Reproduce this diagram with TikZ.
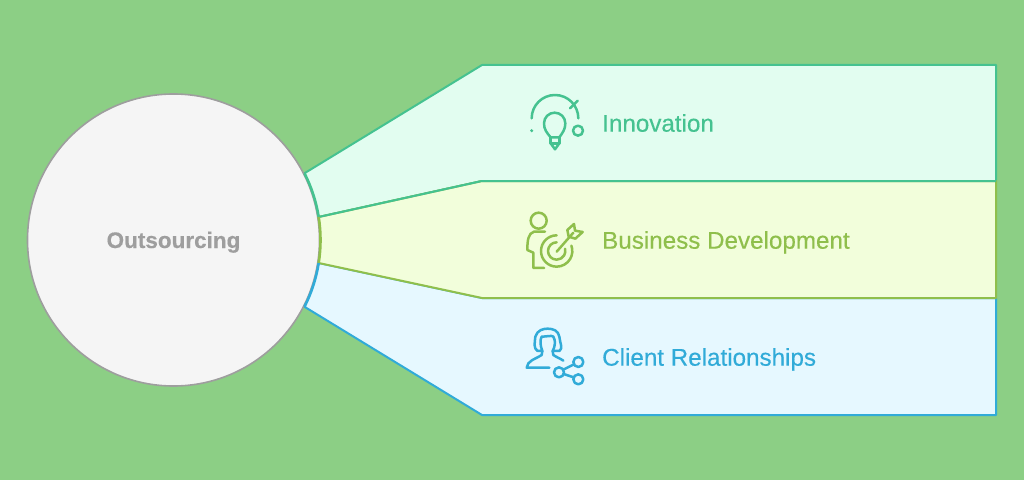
\documentclass[tikz,border=0pt]{standalone}
\usepackage{fontspec}
\setmainfont[FakeBold=0.35]{Liberation Sans}
\usetikzlibrary{calc}
\definecolor{bgc}{HTML}{8CCF85}
\definecolor{topf}{HTML}{E2FDF0}\definecolor{tops}{HTML}{45C290}
\definecolor{midf}{HTML}{F2FEDB}\definecolor{mids}{HTML}{8FBF4C}
\definecolor{botf}{HTML}{E6F8FF}\definecolor{bots}{HTML}{31ABD8}
\definecolor{circf}{HTML}{F5F5F5}\definecolor{circs}{HTML}{9E9E9E}
\tikzset{
 band/.style={line width=2pt,line join=round},
 label/.style={anchor=base west,inner sep=0pt,font=\fontsize{24.2}{28}\selectfont},
 icon/.style={line width=2.5pt,line cap=round,line join=round,fill=none},
}
\begin{document}
\begin{tikzpicture}[x=1pt,y=1pt]
\useasboundingbox (0,0) rectangle (1024,480);
\fill[bgc] (0,0) rectangle (1024,480);
\coordinate (c) at (173.5,240);
\coordinate (a1) at ($(c)+(27:147)$);
\coordinate (a2) at ($(c)+(9:147)$);
\coordinate (a3) at ($(c)+(-9:147)$);
\coordinate (a4) at ($(c)+(-27:147)$);
% bands
\draw[band,draw=tops,fill=topf] (a1) -- (482,415) -- (996,415) -- (996,299) -- (482,299) -- (a2) -- cycle;
\draw[band,draw=bots,fill=botf] (a4) -- (482,65) -- (996,65) -- (996,182) -- (482,182) -- (a3) -- cycle;
\draw[band,draw=mids,fill=midf] (a3) -- (482,182) -- (996,182) -- (996,299) -- (482,299) -- (a2);
\draw[band,draw=tops] (a2) -- (482,299) -- (996,299);
% circle
\node[circle,draw=circs,fill=circf,line width=1.6pt,minimum size=292pt,inner sep=0pt] (hub) at (c) {};
\draw[line width=2.6pt,draw=tops] (a1) arc[start angle=27,end angle=9,radius=147pt];
\draw[line width=2.6pt,draw=mids] (a2) arc[start angle=9,end angle=-9,radius=147pt];
\draw[line width=2.6pt,draw=bots] (a3) arc[start angle=-9,end angle=-27,radius=147pt];
\node[font=\fontsize{22.5}{26}\selectfont\bfseries,text=circs,inner sep=0pt,anchor=base] (hubt) at (173.5,232) {Outsourcing};
% labels
\node[label,text=tops] (l1) at (602,348.3) {Innovation};
\node[label,text=mids] (l2) at (602,231.3) {Business Development};
\node[label,text=bots] (l3) at (602,114.3) {Client Relationships};
% icon 1
\begin{scope}[shift={(510,400)},x=.3333pt,y=-.3333pt,icon,draw=tops]
\draw (65,115) arc[start angle=180,end angle=360,radius=70];
\draw (180,85) -- (203,62);
\fill[tops] (65,152) circle (5);
\draw (204,152) circle (15);
\draw (122,172) .. controls (110,158) and (102,148) .. (102,130) arc[start angle=180,end angle=360,radius=32] .. controls (166,148) and (158,158) .. (148,172) -- cycle;
\draw (122,172) -- (122,190) -- (148,190) -- (148,172);
\draw (122,190) -- (135,208) -- (148,190);
\end{scope}
% icon 2
\begin{scope}[shift={(510,280)},x=.3333pt,y=-.3333pt,icon,draw=mids]
\draw (86,62) circle (24);
\draw (105,95) -- (72,95) .. controls (55,100) and (52,120) .. (52,150) -- (70,158) -- (70,204) -- (102,204);
\draw (140,106) arc[start angle=270,end angle=-20,radius=47];
\draw (140,127) arc[start angle=270,end angle=-15,radius=26];
\draw (140,155) -- (190,98);
\draw (172,90) -- (192,72) -- (195,92) -- (218,96) -- (196,116) -- (176,110) -- cycle;
\end{scope}
% icon 3
\begin{scope}[shift={(510,160)},x=.3333pt,y=-.3333pt,icon,draw=bots]
\draw (83,93) .. controls (70,85) and (74,70) .. (76,50) .. controls (82,30) and (100,26) .. (113,26) .. controls (130,26) and (145,32) .. (148,50) .. controls (150,70) and (160,85) .. (148,93) -- (128,93);
\draw (83,93) -- (97,93) .. controls (90,75) and (90,60) .. (95,50) .. controls (110,50) and (125,45) .. (130,50) .. controls (138,62) and (135,80) .. (128,93);
\draw (118,143) -- (50,143) .. controls (52,122) and (75,118) .. (95,105) -- (97,93);
\draw (128,93) -- (130,105) .. controls (140,112) and (150,115) .. (160,122);
\draw (205,126) circle (15);
\draw (147,157) circle (15);
\draw (205,178) circle (15);
\draw (160,149) -- (192,133);
\draw (161,162) -- (191,172);
\end{scope}
\end{tikzpicture}
\end{document}
